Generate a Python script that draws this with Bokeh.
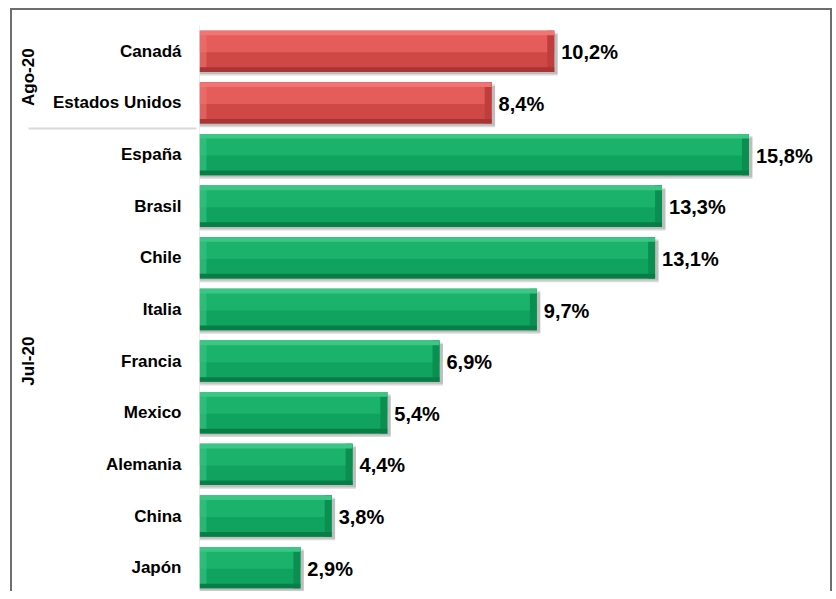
from bokeh.plotting import figure
from bokeh.models import FactorRange, ColumnDataSource, Span
from bokeh.transform import dodge
from bokeh.embed import file_html
from bokeh.resources import INLINE

# ---- data ----
groups = ["Ago-20", "Ago-20", "Jul-20", "Jul-20", "Jul-20", "Jul-20", "Jul-20",
          "Jul-20", "Jul-20", "Jul-20", "Jul-20"]
countries = ["Canadá", "Estados Unidos", "España", "Brasil", "Chile", "Italia",
             "Francia", "Mexico", "Alemania", "China", "Japón"]
values = [10.2, 8.4, 15.8, 13.3, 13.1, 9.7, 6.9, 5.4, 4.4, 3.8, 2.9]
labels = ["10,2%", "8,4%", "15,8%", "13,3%", "13,1%", "9,7%", "6,9%", "5,4%",
          "4,4%", "3,8%", "2,9%"]

FONT = "Liberation Sans"
palette = {"Ago-20": dict(rim="#a83434", dark="#bf3e3d", top="#ee7573", up="#e45d5a", low="#d04845"),
           "Jul-20": dict(rim="#087e47", dark="#0b8f51", top="#3cc685", up="#1bb26c", low="#10a360")}

factors = list(zip(groups, countries))[::-1]
yr = FactorRange(factors=factors, group_padding=0, range_padding=0, factor_padding=0)

p = figure(width=822, height=583, y_range=yr, x_range=(0, 18.26),
           output_backend="svg", toolbar_location=None, x_axis_location=None,
           min_border_left=187, min_border_top=15, min_border_bottom=0,
           min_border_right=0)
p.styles = {"border-top": "2px solid #6e6e6e", "border-left": "2px solid #6e6e6e",
            "border-right": "2px solid #6e6e6e", "box-sizing": "border-box",
            "margin-top": "8px", "margin-left": "10px"}
p.outline_line_color = None
p.xgrid.visible = False
p.ygrid.visible = False
p.background_fill_color = "white"

p.add_layout(Span(location=0, dimension="height", line_color="#dcdcdc", line_width=1))

end = 0.2
src = ColumnDataSource(dict(
    y=list(zip(groups, countries)),
    v=values,
    vs=[v + 0.1 for v in values],
    vin=[v - end for v in values],
    lab=labels,
    rim=[palette[g]["rim"] for g in groups],
    dark=[palette[g]["dark"] for g in groups],
    top=[palette[g]["top"] for g in groups],
    up=[palette[g]["up"] for g in groups],
    low=[palette[g]["low"] for g in groups],
))

# shadow
p.hbar(y=dodge("y", -0.07, range=yr), left=0, right="vs", height=0.8, source=src,
       fill_color="#000000", fill_alpha=0.15, line_color=None)
p.hbar(y=dodge("y", -0.04, range=yr), left=0, right="vs", height=0.8, source=src,
       fill_color="#000000", fill_alpha=0.12, line_color=None)
# lower face
p.hbar(y="y", left=0, right="v", height=0.8, source=src,
       fill_color="low", line_color=None)
# upper face
p.hbar(y=dodge("y", 0.19, range=yr), left=0, right="v", height=0.42, source=src,
       fill_color="up", line_color=None)
# left bevel (lighter)
p.hbar(y="y", left=0, right=end, height=0.64, source=src,
       fill_color="top", fill_alpha=0.55, line_color=None)
# right bevel (darker)
p.hbar(y="y", left="vin", right="v", height=0.8, source=src,
       fill_color="dark", line_color=None)
# top light rim
p.hbar(y=dodge("y", 0.355, range=yr), left=0, right="v", height=0.09, source=src,
       fill_color="top", line_color=None)
# bottom dark rim
p.hbar(y=dodge("y", -0.355, range=yr), left=0, right="v", height=0.09, source=src,
       fill_color="rim", line_color=None)

p.text(x="v", y="y", text="lab", source=src, x_offset=7, y_offset=1,
       text_baseline="middle", text_align="left", text_font_size="20px",
       text_font_style="bold", text_color="#000000",
       text_font={"value": FONT})

ax = p.yaxis[0]
ax.axis_line_color = None
ax.major_tick_line_color = None
ax.minor_tick_line_color = None
ax.major_label_standoff = 12
ax.major_label_text_font = FONT
ax.major_label_text_font_style = "bold"
ax.major_label_text_font_size = "17px"
ax.major_label_text_color = "#000000"
ax.group_text_font = FONT
ax.group_text_font_style = "bold"
ax.group_text_font_size = "17px"
ax.group_text_color = "#000000"
ax.group_label_orientation = "vertical"
ax.separator_line_color = "#d9d9d9"
ax.separator_line_width = 2

open("out.html", "w").write(file_html(p, INLINE))
